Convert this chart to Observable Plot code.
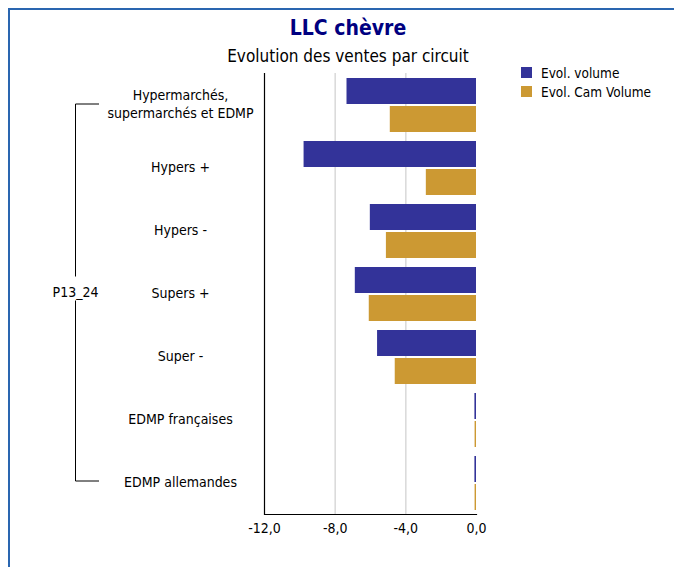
<!DOCTYPE html>
<html>
<head>
<meta charset="utf-8">
<script src="https://cdn.jsdelivr.net/npm/d3@7"></script>
<script src="https://cdn.jsdelivr.net/npm/@observablehq/plot@0.6"></script>
<style>
  html, body { margin: 0; padding: 0; background: #fff; }
  #wrap { position: relative; width: 674px; height: 567px; overflow: hidden;
          font-family: "DejaVu Sans Condensed", "DejaVu Sans", sans-serif; font-stretch: condensed; }
  #border { position: absolute; left: 8px; top: 8px; width: 700px; height: 600px;
            border-top: 2px solid #2a66b0; border-left: 2px solid #2a66b0; }
  #title { position: absolute; left: 0; width: 696px; top: 16px; text-align: center;
           font-size: 21px; font-weight: bold; color: #000080; }
  #subtitle { position: absolute; left: 0; width: 696px; top: 46px; text-align: center;
              font-size: 17px; color: #000; }
  #chart { position: absolute; left: 0; top: 60px; }
  #legend { position: absolute; left: 521px; top: 63px; font-size: 13.5px; color: #000; }
  .item { display: flex; align-items: center; height: 19px; }
  .sw { width: 11px; height: 11px; margin-right: 9px; }
</style>
</head>
<body>
<div id="wrap">
  <div id="border"></div>
  <div id="title">LLC chèvre</div>
  <div id="subtitle">Evolution des ventes par circuit</div>
  <div id="chart"></div>
  <div id="legend"></div>
</div>
<script>
const categories = [
  "Hypermarchés,\nsupermarchés et EDMP",
  "Hypers +",
  "Hypers -",
  "Supers +",
  "Super -",
  "EDMP françaises",
  "EDMP allemandes"
];
const seriesNames = ["Evol. volume", "Evol. Cam Volume"];
const evolVolume = [-7.33, -9.76, -6.01, -6.86, -5.6, -0.09, -0.09];
const evolCamVolume = [-4.88, -2.84, -5.1, -6.07, -4.6, -0.08, -0.08];
const seriesColors = ["#333399", "#cc9933"];
const xTicks = [-12, -8, -4, 0];
const gridTicks = [-8, -4];
const groupLabel = "P13_24";

const volData = categories.map((c, i) => ({cat: c, v: evolVolume[i]}));
const camData = categories.map((c, i) => ({cat: c, v: evolCamVolume[i]}));

const chart = Plot.plot({
  width: 674,
  height: 494,
  marginLeft: 264,
  marginRight: 198,
  marginTop: 13,
  marginBottom: 40,
  style: {fontFamily: '"DejaVu Sans Condensed", "DejaVu Sans", sans-serif', fontSize: "14px", color: "#000", background: "transparent"},
  x: {domain: [-12, 0], ticks: xTicks, tickFormat: d => d.toFixed(1).replace(".", ","), tickSize: 0, tickPadding: 9, label: null},
  y: {domain: categories, paddingInner: 0.143, paddingOuter: 0.0714, axis: null},
  marks: [
    Plot.ruleX(gridTicks, {stroke: "#d6d6d6", strokeWidth: 1.4}),
    Plot.barX(volData, {x: "v", y: "cat", fill: seriesColors[0], insetBottom: 28}),
    Plot.barX(camData, {x: "v", y: "cat", fill: seriesColors[1], insetTop: 28}),
    Plot.ruleX([-12], {stroke: "#000", strokeWidth: 1.2}),
    Plot.frame({anchor: "bottom", stroke: "#000", strokeWidth: 1.2}),
    Plot.text(categories, {y: d => d, text: d => d, frameAnchor: "left", dx: -84, dy: -2, textAnchor: "middle", lineHeight: 1.3, fontSize: 14, fill: "#000"})
  ]
});
document.getElementById("chart").appendChild(chart);

// bracket grouping all categories (positions from the Plot y scale)
const ys = chart.scale("y");
const yPos = c => (ys.apply ? ys.apply(c) : 0) + ys.bandwidth / 2;
const y0 = yPos(categories[0]) - 1;
const y1 = yPos(categories[categories.length - 1]) - 2;
const ym = (y0 + y1) / 2;
const svg = d3.select(chart);
const g = svg.append("g").attr("stroke", "#000").attr("stroke-width", 1);
const bx = 75.5;
g.append("line").attr("x1", bx).attr("x2", 99).attr("y1", y0).attr("y2", y0);
g.append("line").attr("x1", bx).attr("x2", 99).attr("y1", y1).attr("y2", y1);
g.append("line").attr("x1", bx).attr("x2", bx).attr("y1", y0).attr("y2", ym - 16);
g.append("line").attr("x1", bx).attr("x2", bx).attr("y1", ym + 8).attr("y2", y1);
svg.append("text").attr("x", bx).attr("y", ym).attr("dy", "0.35em")
  .attr("text-anchor", "middle").attr("font-size", 14).attr("fill", "#000").text(groupLabel);

const legend = document.getElementById("legend");
seriesNames.forEach((n, i) => {
  const it = document.createElement("div"); it.className = "item";
  const sw = document.createElement("div"); sw.className = "sw"; sw.style.background = seriesColors[i];
  const t = document.createElement("span"); t.textContent = n;
  it.appendChild(sw); it.appendChild(t); legend.appendChild(it);
});
</script>
</body>
</html>
